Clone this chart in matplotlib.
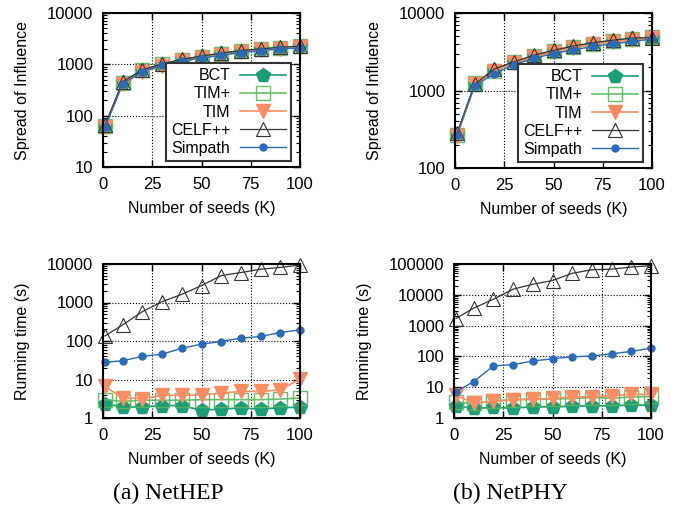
import matplotlib
matplotlib.use("Agg")
import matplotlib.pyplot as plt
from matplotlib.ticker import LogLocator, NullFormatter, FixedLocator, FuncFormatter

plt.rcParams['font.family'] = ['Liberation Sans', 'DejaVu Sans']

seeds = [1, 10, 20, 30, 40, 50, 60, 70, 80, 90, 100]
methods = ["BCT", "TIM+", "TIM", "CELF++", "Simpath"]

# Spread of influence, NetHEP
hep_spread = {
    "BCT":     [63, 450, 770, 1010, 1230, 1430, 1630, 1820, 1980, 2120, 2250],
    "TIM+":    [62, 440, 760, 1000, 1220, 1420, 1620, 1800, 1960, 2100, 2250],
    "TIM":     [60, 410, 700, 940, 1150, 1350, 1520, 1720, 1880, 2030, 2150],
    "CELF++":  [65, 460, 780, 1020, 1250, 1450, 1650, 1850, 2000, 2150, 2250],
    "Simpath": [60, 420, 720, 950, 1150, 1330, 1500, 1700, 1850, 2000, 2100],
}
# Spread of influence, NetPHY
phy_spread = {
    "BCT":     [275, 1180, 1850, 2300, 2800, 3250, 3650, 4050, 4400, 4700, 4750],
    "TIM+":    [265, 1250, 1800, 2300, 2750, 3200, 3600, 3950, 4300, 4600, 4900],
    "TIM":     [255, 1200, 1800, 2250, 2700, 3150, 3550, 3950, 4250, 4550, 4750],
    "CELF++":  [280, 1200, 1900, 2350, 2850, 3300, 3750, 4150, 4450, 4750, 4800],
    "Simpath": [270, 1150, 1650, 2150, 2600, 3000, 3350, 3700, 4000, 4300, 4600],
}
# Running time (s), NetHEP
hep_time = {
    "BCT":     [2.35, 1.93, 1.93, 2.1, 2.1, 1.58, 1.71, 1.82, 1.71, 1.85, 1.9],
    "TIM+":    [3.0, 2.7, 2.9, 2.9, 2.9, 3.0, 3.0, 3.0, 3.0, 3.1, 3.3],
    "TIM":     [6.6, 3.3, 3.2, 3.9, 3.9, 4.0, 4.4, 4.9, 4.9, 5.4, 10.3],
    "CELF++":  [135, 263, 580, 1050, 1630, 2750, 5000, 6000, 7300, 8150, 9400],
    "Simpath": [28, 30.7, 40, 45.5, 65, 83, 97, 119, 131, 166, 195],
}
# Running time (s), NetPHY
phy_time = {
    "BCT":     [2.5, 2.05, 2.2, 2.1, 2.3, 2.3, 2.4, 2.5, 2.5, 2.6, 2.6],
    "TIM+":    [3.2, 3.0, 3.6, 3.9, 4.1, 4.1, 4.3, 4.6, 4.4, 4.8, 5.0],
    "TIM":     [5.5, 3.0, 3.5, 3.9, 4.1, 4.3, 4.8, 4.9, 5.3, 5.8, 5.9],
    "CELF++":  [1700, 3700, 7200, 15200, 22000, 29000, 50000, 65000, 68000, 80000, 88000],
    "Simpath": [7.2, 15.2, 49, 54, 71, 84, 97, 103, 122, 145, 185],
}

styles = {
    "BCT":     dict(color="#1b9e77", marker="p", markersize=10, mfc="#1b9e77", mec="#1b9e77", lw=1.2),
    "TIM+":    dict(color="#5cb85c", marker="s", markersize=10, mfc="none", mec="#5cb85c", lw=1.2, alpha=0.9),
    "TIM":     dict(color="#fc8d62", marker="v", markersize=9.5, mfc="#fc8d62", mec="#fc8d62", lw=1.2),
    "CELF++":  dict(color="#333333", marker="^", markersize=10, mfc="none", mec="#333333", lw=0.9, mew=0.8),
    "Simpath": dict(color="#2a6ab8", marker="o", markersize=5, mfc="#2a6ab8", mec="#2a6ab8", lw=1.0),
}

fig = plt.figure(figsize=(6.78, 5.08), dpi=100)
W, H = 678.0, 508.0

def make_ax(left, top, right, bottom):
    return fig.add_axes([left / W, 1 - bottom / H, (right - left) / W, (bottom - top) / H])

axes = [
    (make_ax(103, 13, 300, 167), hep_spread, (10, 10000), "Spread of Influence", True),
    (make_ax(455, 13, 652, 168), phy_spread, (100, 10000), "Spread of Influence", True),
    (make_ax(103, 264, 300, 418), hep_time, (1, 10000), "Running time (s)", False),
    (make_ax(454, 264, 651, 418), phy_time, (1, 100000), "Running time (s)", False),
]

for ax, data, ylim, ylabel, legend in axes:
    for m in methods:
        ax.plot(seeds, data[m], label=m, clip_on=False, **styles[m])
    ax.set_yscale("log")
    ax.set_ylim(*ylim)
    ax.set_xlim(0, 100)
    ax.xaxis.set_major_locator(FixedLocator([0, 25, 50, 75, 100]))
    ax.yaxis.set_major_locator(LogLocator(base=10, numticks=10))
    ax.yaxis.set_minor_locator(LogLocator(base=10, subs=range(2, 10), numticks=20))
    ax.yaxis.set_minor_formatter(NullFormatter())
    ax.yaxis.set_major_formatter(FuncFormatter(lambda v, p: "%d" % round(v)))
    ax.tick_params(which="both", direction="in", top=True, right=True, labelsize=12)
    ax.tick_params(which="major", length=5, width=1)
    ax.tick_params(which="minor", length=3, width=0.8)
    ax.tick_params(axis="x", pad=7)
    ax.tick_params(axis="y", pad=7)
    ax.grid(True, which="major", linestyle=":", color="black", linewidth=0.8)
    for s in ax.spines.values():
        s.set_linewidth(1.5)
        s.set_zorder(5)
    ax.set_xlabel("Number of seeds (K)", fontsize=11.5, labelpad=7)
    ax.set_ylabel(ylabel, fontsize=11.5, labelpad=12)
    if legend:
        lg = ax.legend(loc="lower right", bbox_to_anchor=(0.955, 0.04), markerfirst=False,
                       fontsize=11.5, frameon=True, fancybox=False, edgecolor="#333333",
                       framealpha=1, labelspacing=0.2, handlelength=2.9,
                       handletextpad=0.6, borderpad=0.3, borderaxespad=0)
        lg.get_frame().set_linewidth(1.5)
        lg.set_zorder(10)
        for t in lg.get_texts():
            t.set_ha("right")
        lg._legend_box.align = "right"

fig.text(168 / W, 1 - 493 / H, "(a) NetHEP", ha="center", va="center",
         fontsize=17, family="Liberation Serif")
fig.text(510 / W, 1 - 493 / H, "(b) NetPHY", ha="center", va="center",
         fontsize=17, family="Liberation Serif")

fig.savefig("out.png", dpi=100)
